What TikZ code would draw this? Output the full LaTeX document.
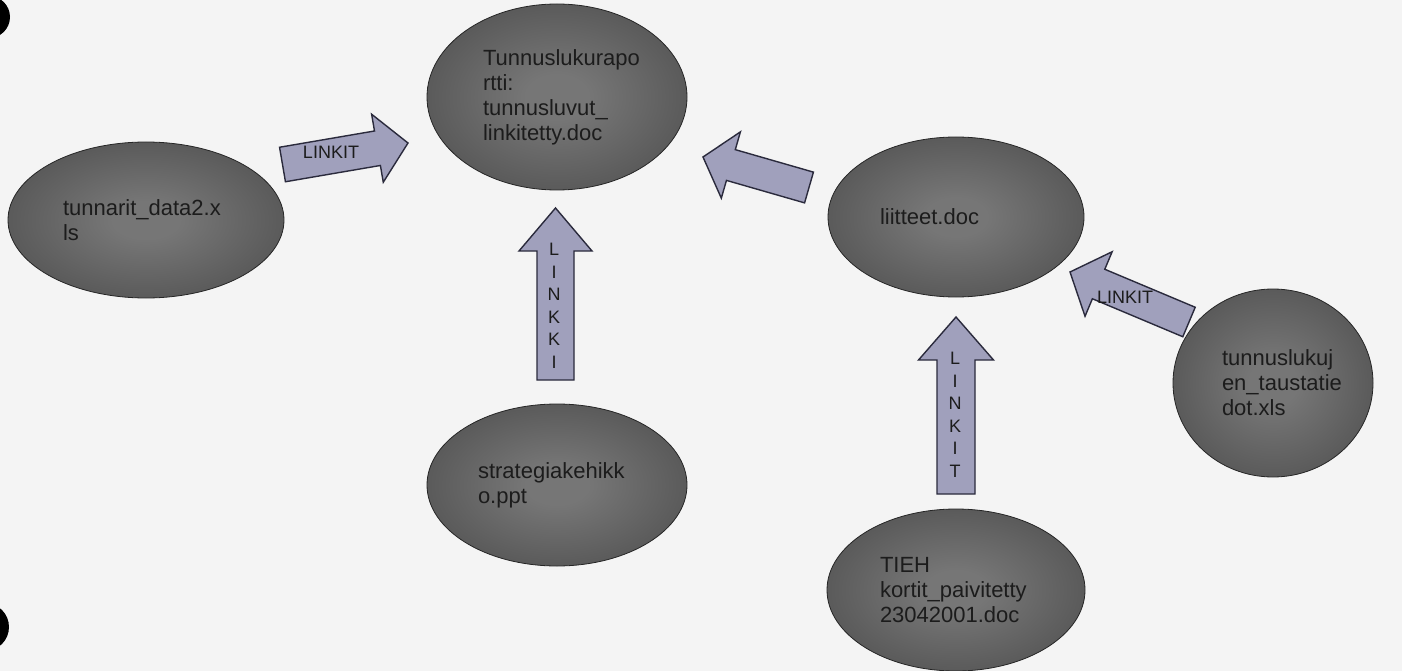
\documentclass[tikz,border=0pt]{standalone}
\usepackage{fontspec}
\setmainfont{Liberation Sans}
\usetikzlibrary{shapes.geometric,calc}
\definecolor{bgc}{HTML}{F4F4F4}
\definecolor{ellin}{HTML}{767676}
\definecolor{ellout}{HTML}{363636}
\definecolor{arrfill}{HTML}{A0A0BC}
\definecolor{arrline}{HTML}{2A2A3C}
\definecolor{txt}{HTML}{1C1C1C}
\pgfdeclareradialshading{ellshade}{\pgfpoint{0bp}{0bp}}{color(0bp)=(ellin); color(6bp)=(ellin); color(50bp)=(ellout)}
% #1 tail, #2 tip, #3 shaft half width, #4 head half width, #5 head length
\newcommand{\blockarr}[5]{%
  \path ($(#2)!#5!(#1)$) coordinate (tmpB);
  \draw[blockarrow] ($(#1)!#3!90:(#2)$) -- ($(tmpB)!#3!90:(#2)$) -- ($(tmpB)!#4!90:(#2)$) -- (#2)
    -- ($(tmpB)!#4!-90:(#2)$) -- ($(tmpB)!#3!-90:(#2)$) -- ($(#1)!#3!-90:(#2)$) -- cycle;}
\begin{document}
\begin{tikzpicture}[x=1pt,y=-1pt,
  ell/.style={ellipse, draw=black!85, line width=0.8pt, shading=ellshade, inner sep=0pt,
    text=txt, align=left, font=\fontsize{22}{25}\selectfont},
  blockarrow/.style={fill=arrfill, draw=arrline, line width=1.4pt, line join=miter},
  arrlabel/.style={text=txt, font=\fontsize{18}{22.5}\selectfont, inner sep=0pt, align=center}]
\useasboundingbox (0,0) rectangle (1402,671);
\fill[bgc] (0,0) rectangle (1402,671);
% punch holes
\fill[black] (-11,17) circle (21pt);
\fill[black] (-15,627) circle (24pt);

% ellipses
\node[ell, minimum width=260pt, minimum height=186pt, text width=148pt] (tunnus) at (557,97)
  {Tunnuslukurapo\\rtti:\\tunnusluvut\_\\linkitetty.doc};
\node[ell, minimum width=276pt, minimum height=156pt, text width=166pt] (tunnarit) at (146,220)
  {tunnarit\_data2.x\\ls};
\node[ell, minimum width=256pt, minimum height=160pt, text width=152pt] (liitteet) at (956,217)
  {liitteet.doc};
\node[ell, minimum width=260pt, minimum height=162pt, text width=158pt] (strategia) at (557,485)
  {strategiakehikk\\o.ppt};
\node[ell, minimum width=258pt, minimum height=162pt, text width=152pt] (tieh) at (956,590)
  {TIEH\\kortit\_paivitetty\\23042001.doc};
\node[ell, minimum width=200pt, minimum height=188pt, text width=102pt] (taust) at (1273,383)
  {tunnuslukuj\\en\_taustatie\\dot.xls};

% arrow end points
\coordinate (aTail) at (282.5,164.5);
\coordinate (aTip) at (408,143);
\coordinate (cTail) at (809,187.5);
\coordinate (cTip) at (703,157);
\coordinate (dTail) at (1189,322);
\coordinate (dTip) at (1070,272);
\coordinate (bTail) at (555.5,380);
\coordinate (bTip) at (555.5,208);
\coordinate (eTail) at (956,494);
\coordinate (eTip) at (956,317);

\blockarr{aTail}{aTip}{17.5pt}{34.5pt}{31pt}
\blockarr{cTail}{cTip}{16pt}{34.5pt}{29pt}
\blockarr{dTail}{dTip}{16pt}{35pt}{31pt}
\blockarr{bTail}{bTip}{18.5pt}{36.5pt}{43pt}
\blockarr{eTail}{eTip}{19pt}{37.5pt}{43pt}

% labels
\node[arrlabel] (lblA) at (331,152) {LINKIT};
\node[arrlabel] (lblD) at (1125,297) {LINKIT};
\node[arrlabel] (lblB) at (554,306) {L\\I\\N\\K\\K\\I};
\node[arrlabel] (lblE) at (955,415) {L\\I\\N\\K\\I\\T};
\end{tikzpicture}
\end{document}
